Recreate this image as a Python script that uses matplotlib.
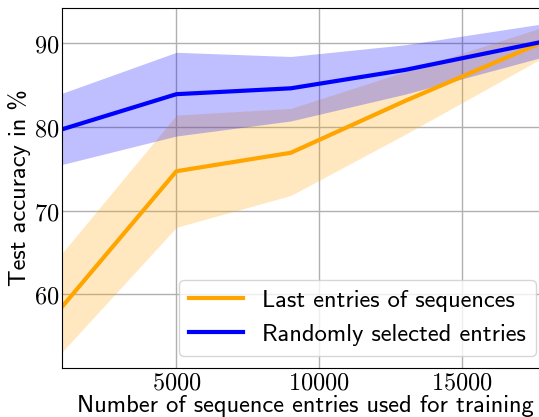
import os
import numpy as np
import matplotlib
matplotlib.use('Agg')
import matplotlib.pyplot as plt
from matplotlib.font_manager import FontProperties
from matplotlib.ticker import FuncFormatter

plt.rcParams['mathtext.fontset'] = 'cm'

# data
n_entries = [1000, 5000, 9000, 13000, 18000]
last_mean = [58.5, 74.7, 76.9, 83.1, 90.4]
last_lo   = [53.1, 68.0, 71.8, 79.1, 88.6]
last_hi   = [64.9, 81.4, 82.2, 86.6, 92.1]
rand_mean = [79.7, 83.9, 84.6, 86.8, 90.3]
rand_lo   = [75.5, 78.9, 80.7, 83.9, 88.5]
rand_hi   = [84.0, 88.9, 88.4, 89.8, 92.4]
xticks = [5000, 10000, 15000]
yticks = [60, 70, 80, 90]

sans = FontProperties(fname=os.path.join(matplotlib.get_data_path(), 'fonts', 'ttf', 'cmss10.ttf'), size=17.6)

fig = plt.figure(figsize=(5.39, 4.17), dpi=100)
ax = fig.add_axes([0.115, 0.1175, 0.902, 0.8635])

ax.fill_between(n_entries, last_lo, last_hi, color='orange', alpha=0.25, lw=0)
ax.fill_between(n_entries, rand_lo, rand_hi, color='blue', alpha=0.25, lw=0)
ax.plot(n_entries, last_mean, color='orange', lw=3, label='Last entries of sequences')
ax.plot(n_entries, rand_mean, color='blue', lw=3, label='Randomly selected entries')

ax.set_xlim(1000, 18000)
ax.set_ylim(51.2, 94.2)
ax.set_xticks(xticks)
ax.set_yticks(yticks)
fmt = FuncFormatter(lambda v, p: f'${v:.0f}$')
ax.xaxis.set_major_formatter(fmt)
ax.yaxis.set_major_formatter(fmt)
ax.tick_params(labelsize=17.5, length=0, pad=2)
ax.grid(color='#b0b0b0', lw=1)
ax.set_axisbelow(True)

ax.set_xlabel('Number of sequence entries used for training', fontproperties=sans, labelpad=0)
ax.set_ylabel('Test accuracy in %', fontproperties=sans, labelpad=2)
ax.legend(loc='lower right', prop=sans, handlelength=2.2)

fig.savefig('out.png', dpi=100)
